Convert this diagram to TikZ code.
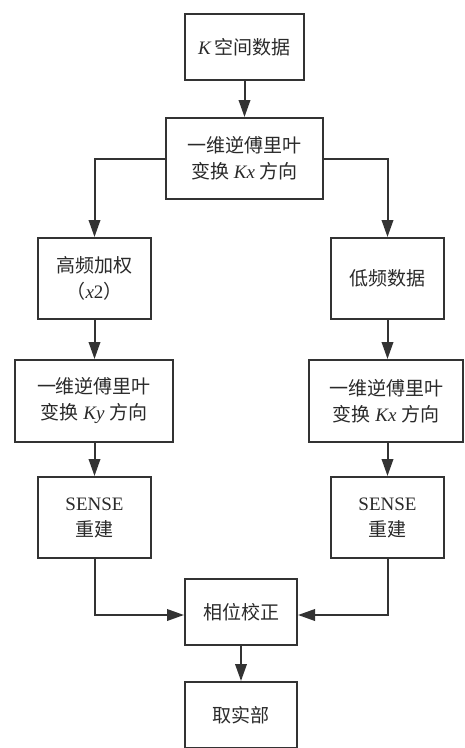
\documentclass[tikz,border=0pt]{standalone}
\usepackage{fontspec}
\setmainfont{Liberation Serif}
\newfontfamily\cjk{Noto Sans CJK SC}
\usetikzlibrary{arrows.meta}
\definecolor{ln}{HTML}{333333}
\definecolor{tx}{HTML}{2A2A2A}
\begin{document}
\begin{tikzpicture}[x=1pt,y=-1pt,
  box/.style={draw=ln,line width=2pt,fill=white,align=center,text=tx,font=\fontsize{19}{26}\selectfont,inner sep=0pt},
  arr/.style={draw=ln,line width=2pt,-{Triangle[length=17pt,width=11.5pt]}}]
\useasboundingbox (0,0) rectangle (464,748);
\node[box,minimum width=119pt,minimum height=66pt] (a) at (244.5,47) {\textit{K}\,{\cjk 空间数据}};
\node[box,minimum width=157pt,minimum height=81pt] (b) at (244.5,158.5) {{\cjk 一维逆傅里叶}\\{\cjk 变换} \textit{Kx} {\cjk 方向}};
\node[box,minimum width=113pt,minimum height=81pt] (c) at (94.5,278.5) {{\cjk 高频加权}\\{\cjk （}\textit{x}2{\cjk ）}};
\node[box,minimum width=113pt,minimum height=81pt] (d) at (387.5,278.5) {{\cjk 低频数据}};
\node[box,minimum width=158pt,minimum height=82pt] (e) at (94,401) {{\cjk 一维逆傅里叶}\\{\cjk 变换} \textit{Ky} {\cjk 方向}};
\node[box,minimum width=154pt,minimum height=82pt] (f) at (386,401) {{\cjk 一维逆傅里叶}\\{\cjk 变换} \textit{Kx} {\cjk 方向}};
\node[box,minimum width=113pt,minimum height=81pt] (g) at (94.5,517.5) {SENSE\\{\cjk 重建}};
\node[box,minimum width=113pt,minimum height=81pt] (h) at (387.5,517.5) {SENSE\\{\cjk 重建}};
\node[box,minimum width=112pt,minimum height=66pt] (i) at (241,612) {{\cjk 相位校正}};
\node[box,minimum width=112pt,minimum height=66pt] (j) at (241,715) {{\cjk 取实部}};
\coordinate (gl) at (94.5,615);
\coordinate (hr) at (387.5,615);
\draw[arr] (a) -- (b);
\draw[arr] (b.west) -| (c.north);
\draw[arr] (b.east) -| (d.north);
\draw[arr] (c) -- (c|-e.north);
\draw[arr] (d) -- (d|-f.north);
\draw[arr] (e.south-|c) -- (g.north);
\draw[arr] (f.south-|d) -- (h.north);
\draw[arr] (g.south) -- (gl) -- (gl-|i.west);
\draw[arr] (h.south) -- (hr) -- (hr-|i.east);
\draw[arr] (i) -- (j);
\end{tikzpicture}
\end{document}
